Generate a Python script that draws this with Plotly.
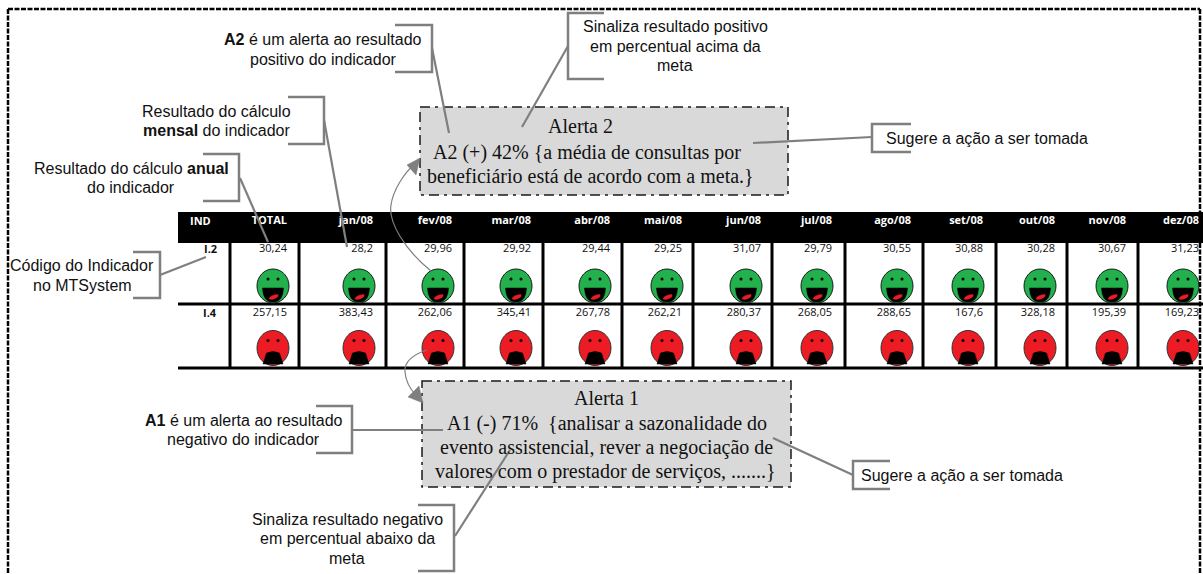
import plotly.graph_objects as go

# ---- data ----
header_labels = ["TOTAL", "jan/08", "fev/08", "mar/08", "abr/08", "mai/08", "jun/08",
                 "jul/08", "ago/08", "set/08", "out/08", "nov/08", "dez/08"]
i2_values = [30.24, 28.2, 29.96, 29.92, 29.44, 29.25, 31.07, 29.79, 30.55, 30.88, 30.28, 30.67, 31.23]
i4_values = [257.15, 383.43, 262.06, 345.41, 267.78, 262.21, 280.37, 268.05, 288.65, 167.6, 328.18, 195.39, 169.23]
row_codes = ["I.2", "I.4"]

# ---- layout of the table (pixels of the 1203x574 page) ----
W, H = 1203, 574
col_right = [287, 373, 452, 531, 610, 682, 761, 832, 911, 983, 1055, 1126, 1199]
face_x = [273, 359, 438, 516, 595, 667, 746, 817, 897, 968, 1040, 1112, 1183]
col_sep = [230, 299, 386, 464, 543, 622, 693, 772, 845, 923, 996, 1067, 1138]

GRAY = "#7f7f7f"
SANS = "Liberation Sans, Arial, sans-serif"
SERIF = "Liberation Serif, Times New Roman, serif"
TABLE = "Open Sans, Lato, sans-serif"

shapes = []
annots = []


def rect(x0, y0, x1, y1, fill, line=None, width=0, dash=None, layer="above"):
    shapes.append(dict(type="rect", x0=x0, y0=y0, x1=x1, y1=y1, fillcolor=fill, layer=layer,
                       line=dict(color=line or fill, width=width, dash=dash) if width
                       else dict(width=0), xref="x", yref="y"))


def seg(x0, y0, x1, y1, color=GRAY, width=2.2, dash=None):
    shapes.append(dict(type="line", x0=x0, y0=y0, x1=x1, y1=y1, xref="x", yref="y",
                       line=dict(color=color, width=width, dash=dash)))


def path(d, fill=None, color=GRAY, width=2.5):
    s = dict(type="path", path=d, xref="x", yref="y", line=dict(color=color, width=width))
    s["fillcolor"] = fill if fill else "rgba(0,0,0,0)"
    shapes.append(s)


def bracket(x_open, x_closed, y0, y1):
    path(f"M {x_open},{y0} L {x_closed},{y0} L {x_closed},{y1} L {x_open},{y1}")


def text(x, y, s, size=16, font=SANS, color="#111111", anchor="center"):
    annots.append(dict(x=x, y=y, text=s, showarrow=False, xanchor=anchor, yanchor="middle",
                       xref="x", yref="y", font=dict(family=font, size=size, color=color)))


def happy(cx, cy):
    shapes.append(dict(type="circle", x0=cx - 16, x1=cx + 16, y0=cy - 17, y1=cy + 17, xref="x", yref="y",
                       fillcolor="#22b14c", line=dict(color="#1a1a1a", width=1)))
    for dx in (-5, 5):
        shapes.append(dict(type="circle", x0=cx + dx - 1.5, x1=cx + dx + 1.5, y0=cy - 8.5, y1=cy - 5.5,
                           xref="x", yref="y", fillcolor="black", line=dict(width=0)))
    path(f"M {cx-10.5},{cy+2} L {cx+10.5},{cy+2} Q {cx+10},{cy+16} {cx},{cy+16} "
         f"Q {cx-10},{cy+16} {cx-10.5},{cy+2} Z", fill="black", color="black", width=0.5)
    path(f"M {cx-4},{cy+13} Q {cx-3},{cy+9} {cx+5},{cy+8.5} Q {cx+6},{cy+11} {cx+2},{cy+12.5} "
         f"Q {cx-1},{cy+14} {cx-4},{cy+13} Z", fill="#ed1c24", color="#ed1c24", width=0.5)


def sad(cx, cy):
    shapes.append(dict(type="circle", x0=cx - 16, x1=cx + 16, y0=cy - 17.5, y1=cy + 17.5, xref="x", yref="y",
                       fillcolor="#ed1c24", line=dict(color="#333333", width=1)))
    for dx in (-5, 5):
        shapes.append(dict(type="circle", x0=cx + dx - 1.5, x1=cx + dx + 1.5, y0=cy - 9, y1=cy - 6,
                           xref="x", yref="y", fillcolor="black", line=dict(width=0)))
    path(f"M {cx-10},{cy+16} L {cx-6.5},{cy+5} Q {cx},{cy+2} {cx+6.5},{cy+5} L {cx+10},{cy+16} Z",
         fill="black", color="black", width=0.5)


# table header and grid
rect(178, 212, W, 243, "black", layer="below")
seg(178, 304, W, 304, "black", 3)
seg(178, 368, W, 368, "black", 3)
for x in col_sep:
    seg(x, 243, x, 368, "black", 3)

# faces
for fx in face_x:
    happy(fx, 286)
    sad(fx, 348)

# alert boxes
rect(420, 107, 788, 195, "#d9d9d9", "#1a1a1a", 1.5, "10px,5px,3px,5px")
rect(422, 381, 791, 487, "#d9d9d9", "#1a1a1a", 1.5, "10px,5px,3px,5px")

# callout brackets + leaders
bracket(395, 432, 25, 72);   seg(432, 48, 449, 133)
bracket(604, 568, 13, 79);   seg(568, 46, 522, 127)
bracket(288, 324, 97, 144);  seg(324, 120, 347, 247)
bracket(203, 239, 154, 201); seg(240, 178, 268, 242)
bracket(133, 160, 252, 298); seg(160, 275, 206, 257)
bracket(316, 352, 406, 453); seg(352, 430, 443, 430)
bracket(418, 454, 505, 571); seg(455, 536, 510, 450)
bracket(911, 872, 124, 152); seg(753, 143, 872, 137)
bracket(890, 853, 461, 489); seg(853, 475, 773, 438)

# curved arrows
path("M 431,271 C 405,250 388,222 391,205 C 393,190 405,172 414,165", color=GRAY, width=1.2)
path("M 420,158 L 407,165 L 416,175 Z", fill=GRAY, color=GRAY, width=0.5)
path("M 427,350 C 412,355 404,362 405,372 C 406,384 411,390 416,395", color=GRAY, width=1.2)
path("M 423,403 L 408,397 L 419,386 Z", fill=GRAY, color=GRAY, width=0.5)

# outer dashed frame on top
seg(8, 9, 1200, 9, "black", 2.5, "5px,1.5px")
seg(8, 9, 8, H, "black", 2.5, "5px,1.5px")
seg(1200, 9, 1200, H, "black", 2.5, "5px,1.5px")

# callout text
text(323, 39, "<b>A2</b> é um alerta ao resultado")
text(323, 59, "positivo do indicador")
text(675, 26, "Sinaliza resultado positivo")
text(675, 46, "em percentual acima da")
text(675, 65, "meta")
text(216, 111, "Resultado do cálculo")
text(216, 130, "<b>mensal</b> do indicador")
text(131, 168, "Resultado do cálculo <b>anual</b>")
text(131, 187, "do indicador")
text(82, 265, "Código do Indicador")
text(82, 285, "no MTSystem")
text(244, 420, "<b>A1</b> é um alerta ao resultado")
text(243, 439, "negativo do indicador")
text(347, 519, "Sinaliza resultado negativo")
text(347, 538, "em percentual abaixo da")
text(347, 558, "meta")
text(987, 138, "Sugere a ação a ser tomada")
text(962, 475, "Sugere a ação a ser tomada")

# alert text
text(580, 126, "Alerta 2", 20, SERIF)
text(587, 152, "A2 (+) 42% {a média de consultas por", 20, SERIF)
text(590, 176, "beneficiário está de acordo com a meta.}", 20, SERIF)
text(606, 398, "Alerta 1", 20, SERIF)
text(607, 423, "A1 (-) 71%\u00a0 {analisar a sazonalidade do", 20, SERIF)
text(606, 447, "evento assistencial, rever a negociação de", 20, SERIF)
text(605, 471, "valores com o prestador de serviços, .......}", 20, SERIF)


def fmt(v):
    return str(v).replace(".", ",")


fig = go.Figure()
fig.add_trace(go.Scatter(x=col_right, y=[221] * 13, mode="text", text=["<b>%s</b>" % h for h in header_labels],
                         textposition="middle left",
                         textfont=dict(family=TABLE, size=11, color="white"), hoverinfo="skip"))
fig.add_trace(go.Scatter(x=col_right, y=[249] * 13, mode="text", text=[fmt(v) for v in i2_values],
                         textposition="middle left",
                         textfont=dict(family=TABLE, size=11, color="#111111"), hoverinfo="skip"))
fig.add_trace(go.Scatter(x=col_right, y=[313] * 13, mode="text", text=[fmt(v) for v in i4_values],
                         textposition="middle left",
                         textfont=dict(family=TABLE, size=11, color="#111111"), hoverinfo="skip"))
text(200, 220, "<b>IND</b>", 11, TABLE, "white")
text(219, 248, "<b>%s</b>" % row_codes[0], 11, TABLE, "#111111", "right")
text(219, 312, "<b>%s</b>" % row_codes[1], 11, TABLE, "#111111", "right")

fig.update_layout(width=W, height=H, margin=dict(l=0, r=0, t=0, b=0), showlegend=False,
                  plot_bgcolor="white", paper_bgcolor="white", shapes=shapes, annotations=annots,
                  xaxis=dict(range=[0, W], visible=False, fixedrange=True),
                  yaxis=dict(range=[H, 0], visible=False, fixedrange=True))
fig.write_html("out.html", config=dict(displayModeBar=False),
               post_script="document.body.style.margin='0';document.documentElement.style.overflow='hidden';")
